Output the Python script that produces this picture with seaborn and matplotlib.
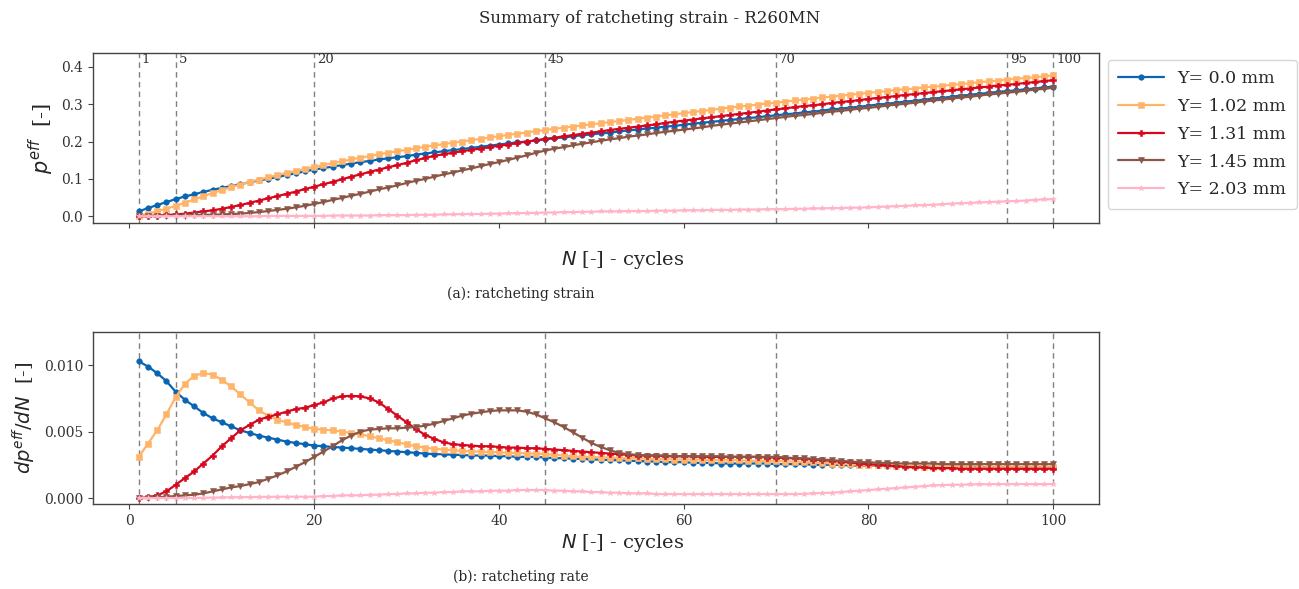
"""Summary of ratcheting strain - R260MN: strain and strain-rate vs. cycles."""

import matplotlib

matplotlib.use("Agg")
import matplotlib.pyplot as plt
import pandas as pd
import seaborn as sns

# Series (lateral position Y)
series_labels = ["Y= 0.0 mm", "Y= 1.02 mm", "Y= 1.31 mm", "Y= 1.45 mm", "Y= 2.03 mm"]
series_colors = ["#0a64b4", "#ffb469", "#d7081e", "#8b5646", "#ffb4c8"]
series_markers = ["o", "s", "P", "v", "*"]

cycles = list(range(1, 101))
marked_cycles = [1, 5, 20, 45, 70, 95, 100]

# (a) ratcheting strain p_eff [-]
strain_y000 = [
    .013, .022, .030, .038, .046, .053, .059, .065, .071, .076,
    .081, .086, .091, .096, .100, .105, .110, .115, .120, .125,
    .129, .133, .137, .141, .145, .148, .152, .155, .158, .161,
    .165, .168, .171, .174, .177, .180, .183, .186, .189, .192,
    .195, .198, .200, .203, .206, .209, .211, .214, .217, .219,
    .222, .224, .227, .230, .232, .235, .237, .240, .242, .245,
    .248, .250, .253, .255, .258, .260, .263, .265, .268, .270,
    .273, .275, .278, .280, .283, .286, .288, .291, .293, .296,
    .299, .301, .304, .307, .309, .312, .315, .317, .320, .323,
    .325, .328, .330, .333, .335, .337, .340, .342, .345, .347,
]
strain_y102 = [
    .002, .007, .013, .020, .028, .036, .045, .054, .062, .070,
    .078, .085, .092, .098, .104, .110, .116, .121, .127, .132,
    .137, .142, .147, .152, .157, .161, .166, .170, .174, .178,
    .182, .186, .190, .193, .197, .200, .204, .207, .211, .214,
    .218, .221, .224, .228, .231, .234, .237, .240, .243, .246,
    .249, .252, .255, .258, .261, .264, .267, .270, .273, .276,
    .279, .282, .285, .288, .291, .294, .296, .299, .302, .304,
    .307, .310, .312, .315, .318, .320, .323, .325, .328, .330,
    .333, .335, .338, .340, .342, .345, .347, .349, .352, .354,
    .356, .359, .361, .363, .366, .368, .370, .372, .375, .377,
]
strain_y131 = [
    .000, .001, .002, .003, .005, .007, .010, .013, .016, .020,
    .025, .030, .036, .042, .048, .054, .060, .066, .073, .079,
    .086, .092, .099, .106, .112, .119, .125, .131, .137, .143,
    .150, .156, .162, .166, .170, .174, .178, .181, .185, .189,
    .192, .196, .200, .203, .207, .210, .214, .217, .221, .224,
    .227, .231, .234, .237, .240, .243, .246, .250, .253, .256,
    .259, .262, .265, .268, .271, .274, .277, .280, .283, .286,
    .289, .292, .295, .297, .300, .303, .306, .308, .311, .314,
    .317, .319, .322, .325, .327, .330, .332, .335, .337, .340,
    .342, .345, .347, .350, .352, .354, .357, .359, .362, .364,
]
strain_y145 = [
    .000, .000, .001, .001, .002, .002, .003, .004, .004, .005,
    .006, .007, .009, .011, .014, .017, .020, .024, .028, .033,
    .038, .044, .049, .055, .060, .066, .072, .077, .083, .089,
    .095, .100, .106, .112, .117, .123, .128, .134, .140, .145,
    .151, .157, .163, .170, .176, .181, .185, .190, .194, .198,
    .202, .206, .209, .213, .216, .219, .223, .226, .229, .232,
    .235, .238, .242, .245, .248, .251, .254, .257, .260, .263,
    .266, .269, .271, .274, .277, .280, .282, .285, .288, .290,
    .293, .296, .299, .301, .304, .307, .310, .312, .315, .318,
    .320, .323, .326, .328, .331, .333, .336, .339, .341, .344,
]
strain_y203 = [
    .000, .000, .000, .000, .000, .000, .000, .000, .000, .000,
    .000, .000, .000, .000, .001, .001, .001, .001, .001, .001,
    .001, .002, .002, .002, .002, .002, .003, .003, .003, .003,
    .004, .004, .004, .005, .005, .006, .006, .006, .007, .007,
    .008, .008, .009, .009, .010, .010, .011, .011, .012, .012,
    .013, .013, .013, .014, .014, .014, .015, .015, .015, .016,
    .016, .016, .017, .017, .017, .018, .018, .018, .019, .019,
    .019, .020, .020, .021, .021, .022, .022, .023, .023, .024,
    .025, .026, .027, .028, .029, .030, .031, .032, .034, .035,
    .036, .037, .038, .039, .040, .041, .042, .044, .045, .046,
]

# (b) ratcheting rate dp_eff/dN, in units of 1e-3 [-]
rate_y000 = [
    10.3, 9.9, 9.4, 8.8, 8.0, 7.4, 6.9, 6.4, 6.0, 5.7,
    5.4, 5.1, 4.9, 4.7, 4.55, 4.4, 4.25, 4.15, 4.05, 3.95,
    3.9, 3.85, 3.8, 3.75, 3.7, 3.65, 3.6, 3.55, 3.5, 3.45,
    3.4, 3.35, 3.3, 3.3, 3.25, 3.25, 3.2, 3.2, 3.2, 3.15,
    3.15, 3.1, 3.1, 3.1, 3.05, 3.0, 3.0, 2.95, 2.95, 2.9,
    2.9, 2.85, 2.85, 2.8, 2.8, 2.75, 2.75, 2.7, 2.7, 2.7,
    2.65, 2.65, 2.65, 2.6, 2.6, 2.6, 2.6, 2.6, 2.6, 2.55,
    2.55, 2.55, 2.55, 2.5, 2.5, 2.5, 2.5, 2.45, 2.45, 2.45,
    2.45, 2.4, 2.4, 2.4, 2.4, 2.4, 2.35, 2.35, 2.35, 2.35,
    2.35, 2.35, 2.3, 2.3, 2.3, 2.3, 2.3, 2.3, 2.3, 2.3,
]
rate_y102 = [
    3.1, 4.1, 5.1, 6.3, 7.6, 8.6, 9.2, 9.4, 9.3, 8.9,
    8.4, 7.8, 7.2, 6.6, 6.2, 5.9, 5.7, 5.5, 5.35, 5.2,
    5.15, 5.1, 5.0, 4.9, 4.8, 4.65, 4.5, 4.35, 4.2, 4.05,
    3.9, 3.8, 3.7, 3.65, 3.6, 3.55, 3.5, 3.5, 3.45, 3.45,
    3.4, 3.4, 3.35, 3.35, 3.3, 3.25, 3.2, 3.15, 3.1, 3.1,
    3.05, 3.05, 3.0, 3.0, 3.0, 2.95, 2.95, 2.95, 2.9, 2.9,
    2.9, 2.9, 2.85, 2.85, 2.85, 2.85, 2.8, 2.8, 2.8, 2.8,
    2.75, 2.75, 2.7, 2.7, 2.65, 2.6, 2.6, 2.55, 2.5, 2.5,
    2.45, 2.45, 2.4, 2.4, 2.4, 2.35, 2.35, 2.35, 2.35, 2.35,
    2.3, 2.3, 2.3, 2.3, 2.3, 2.3, 2.3, 2.3, 2.3, 2.3,
]
rate_y131 = [
    0.0, 0.05, 0.2, 0.5, 1.0, 1.5, 2.0, 2.6, 3.2, 3.9,
    4.5, 5.1, 5.5, 5.9, 6.1, 6.3, 6.5, 6.7, 6.8, 7.0,
    7.2, 7.5, 7.65, 7.7, 7.65, 7.5, 7.2, 6.7, 6.2, 5.7,
    5.2, 4.75, 4.45, 4.2, 4.05, 4.0, 3.95, 3.9, 3.9, 3.85,
    3.8, 3.8, 3.75, 3.75, 3.7, 3.65, 3.6, 3.55, 3.5, 3.45,
    3.4, 3.35, 3.3, 3.25, 3.2, 3.2, 3.2, 3.15, 3.15, 3.15,
    3.15, 3.1, 3.1, 3.1, 3.1, 3.1, 3.1, 3.1, 3.05, 3.05,
    3.0, 3.0, 2.95, 2.9, 2.85, 2.8, 2.75, 2.7, 2.6, 2.55,
    2.5, 2.45, 2.4, 2.35, 2.3, 2.3, 2.25, 2.25, 2.25, 2.2,
    2.2, 2.2, 2.2, 2.2, 2.2, 2.2, 2.2, 2.2, 2.2, 2.2,
]
rate_y145 = [
    0.0, 0.0, 0.05, 0.1, 0.15, 0.2, 0.25, 0.35, 0.5, 0.65,
    0.8, 0.9, 1.05, 1.2, 1.45, 1.7, 2.0, 2.35, 2.7, 3.1,
    3.5, 3.9, 4.35, 4.7, 5.0, 5.15, 5.2, 5.25, 5.25, 5.3,
    5.35, 5.45, 5.6, 5.8, 6.0, 6.2, 6.35, 6.45, 6.55, 6.6,
    6.6, 6.6, 6.5, 6.3, 6.0, 5.7, 5.35, 4.95, 4.55, 4.15,
    3.85, 3.6, 3.4, 3.3, 3.25, 3.2, 3.2, 3.2, 3.15, 3.15,
    3.15, 3.15, 3.15, 3.15, 3.1, 3.1, 3.1, 3.1, 3.1, 3.1,
    3.05, 3.0, 3.0, 2.95, 2.9, 2.85, 2.8, 2.75, 2.7, 2.7,
    2.65, 2.65, 2.6, 2.6, 2.6, 2.6, 2.6, 2.55, 2.55, 2.55,
    2.55, 2.55, 2.55, 2.55, 2.55, 2.55, 2.55, 2.55, 2.55, 2.55,
]
rate_y203 = [
    0.0, 0.0, 0.0, 0.0, 0.0, 0.0, 0.0, 0.02, 0.03, 0.04,
    0.05, 0.06, 0.07, 0.08, 0.09, 0.1, 0.1, 0.1, 0.1, 0.1,
    0.15, 0.15, 0.2, 0.2, 0.2, 0.25, 0.25, 0.3, 0.3, 0.35,
    0.35, 0.4, 0.4, 0.45, 0.45, 0.5, 0.5, 0.5, 0.55, 0.55,
    0.55, 0.6, 0.6, 0.6, 0.6, 0.55, 0.55, 0.5, 0.5, 0.45,
    0.45, 0.4, 0.4, 0.35, 0.35, 0.35, 0.3, 0.3, 0.3, 0.3,
    0.3, 0.3, 0.3, 0.3, 0.3, 0.3, 0.3, 0.3, 0.3, 0.3,
    0.3, 0.3, 0.32, 0.35, 0.38, 0.4, 0.45, 0.5, 0.55, 0.6,
    0.65, 0.7, 0.75, 0.8, 0.85, 0.9, 0.95, 0.97, 1.0, 1.0,
    1.02, 1.03, 1.04, 1.05, 1.05, 1.05, 1.05, 1.05, 1.05, 1.05,
]

strain_data = [strain_y000, strain_y102, strain_y131, strain_y145, strain_y203]
rate_data = [rate_y000, rate_y102, rate_y131, rate_y145, rate_y203]

sns.set_style("ticks")
plt.rcParams["font.family"] = ["DejaVu Serif"]
plt.rcParams["axes.edgecolor"] = "#444444"
plt.rcParams["xtick.color"] = "#444444"
plt.rcParams["ytick.color"] = "#444444"
plt.rcParams["xtick.labelcolor"] = "#333333"
plt.rcParams["ytick.labelcolor"] = "#333333"


def long_frame(arrays, scale=1.0):
    frames = []
    for label, values in zip(series_labels, arrays):
        frames.append(
            pd.DataFrame(
                {"N": cycles, "value": [v * scale for v in values], "series": label}
            )
        )
    return pd.concat(frames, ignore_index=True)


def draw_panel(ax, df):
    sns.lineplot(
        data=df,
        x="N",
        y="value",
        hue="series",
        style="series",
        hue_order=series_labels,
        style_order=series_labels,
        palette=dict(zip(series_labels, series_colors)),
        markers=dict(zip(series_labels, series_markers)),
        dashes=False,
        markersize=4,
        markeredgecolor="auto",
        markeredgewidth=0.4,
        linewidth=1.6,
        legend=True,
        ax=ax,
    )
    for n in marked_cycles:
        ax.axvline(n, color="#808080", linestyle=(0, (4, 3)), linewidth=1.0, zorder=0)
    for side in ["top", "right", "left", "bottom"]:
        ax.spines[side].set_visible(True)
        ax.spines[side].set_linewidth(1.0)
    ax.set_xlim(-3.95, 104.95)
    ax.set_xticks([0, 20, 40, 60, 80, 100])
    ax.tick_params(labelsize=10)


fig = plt.figure(figsize=(12.99, 5.89), dpi=100)
ax1 = fig.add_axes([0.0716, 0.6214, 0.7744, 0.2886])
ax2 = fig.add_axes([0.0716, 0.1443, 0.7744, 0.292])

# (a) strain
draw_panel(ax1, long_frame(strain_data))
ax1.set_ylim(-0.018, 0.437)
ax1.set_yticks([0.0, 0.1, 0.2, 0.3, 0.4])
ax1.tick_params(labelbottom=False)
for n in marked_cycles:
    ax1.text(n + 0.3, 0.42, str(n), fontsize=9.5, va="center", ha="left", color="#333333")
ax1.set_ylabel(r"$p^{eff}$  [-]", fontsize=15)
ax1.set_xlabel(r"$N$ [-] - cycles", fontsize=14, va="top")
ax1.xaxis.set_label_coords(0.526, -0.155)

handles, labels = ax1.get_legend_handles_labels()
ax1.legend(
    handles,
    labels,
    loc="upper left",
    bbox_to_anchor=(1.009, 0.96),
    borderaxespad=0,
    fontsize=12.5,
    handlelength=2.6,
    labelspacing=0.62,
    frameon=True,
    edgecolor="#cccccc",
    fancybox=True,
    borderpad=0.6,
)

# (b) rate
draw_panel(ax2, long_frame(rate_data, scale=1e-3))
ax2.get_legend().remove()
ax2.set_ylim(-0.00045, 0.0125)
ax2.set_yticks([0.0, 0.005, 0.010])
ax2.yaxis.set_major_formatter(matplotlib.ticker.FormatStrFormatter("%.3f"))
ax2.set_ylabel(r"$dp^{eff}/dN$  [-]", fontsize=14)
ax2.set_xlabel(r"$N$ [-] - cycles", fontsize=14, va="top")
ax2.xaxis.set_label_coords(0.526, -0.16)

fig.suptitle("Summary of ratcheting strain - R260MN", fontsize=12, y=0.969, va="center")
fig.text(0.401, 1 - 294 / 589, "(a): ratcheting strain", ha="center", va="center", fontsize=10)
fig.text(0.401, 1 - 577 / 589, "(b): ratcheting rate", ha="center", va="center", fontsize=10)

fig.savefig("out.png", dpi=100)
plt.close(fig)
